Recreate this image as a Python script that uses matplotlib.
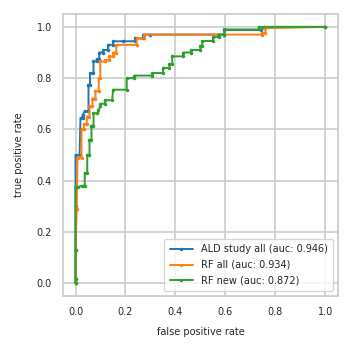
import matplotlib
matplotlib.use("Agg")
import matplotlib.pyplot as plt
import seaborn as sns

sns.set_theme(style="whitegrid")
plt.rcParams['font.family'] = ['DejaVu Sans']

ald_fpr = [0.0, 0.0, 0.0, 0.016, 0.02, 0.028, 0.028, 0.036, 0.052, 0.052, 0.058, 0.058, 0.072, 0.072, 0.085, 0.085, 0.095, 0.095, 0.11, 0.11, 0.13, 0.13, 0.15, 0.15, 0.19, 0.24, 0.24, 0.27, 0.27, 0.30, 0.596, 0.596, 0.744, 0.756, 1.0]
ald_tpr = [0.0, 0.30, 0.50, 0.50, 0.645, 0.645, 0.655, 0.67, 0.67, 0.774, 0.774, 0.82, 0.82, 0.865, 0.865, 0.875, 0.875, 0.90, 0.90, 0.91, 0.91, 0.93, 0.93, 0.944, 0.944, 0.944, 0.955, 0.955, 0.97, 0.97, 0.97, 0.988, 0.988, 1.0, 1.0]
label_ald = "ALD study all (auc: 0.946)"

rfa_fpr = [0.0, 0.0, 0.005, 0.008, 0.024, 0.024, 0.033, 0.033, 0.045, 0.045, 0.056, 0.056, 0.068, 0.068, 0.08, 0.08, 0.093, 0.093, 0.099, 0.099, 0.12, 0.12, 0.136, 0.136, 0.152, 0.152, 0.163, 0.163, 0.245, 0.245, 0.276, 0.276, 0.747, 0.747, 0.76, 0.76, 1.0]
rfa_tpr = [0.0, 0.13, 0.29, 0.49, 0.49, 0.60, 0.60, 0.62, 0.62, 0.65, 0.65, 0.69, 0.69, 0.72, 0.72, 0.75, 0.75, 0.80, 0.80, 0.865, 0.865, 0.87, 0.87, 0.885, 0.885, 0.90, 0.90, 0.93, 0.93, 0.955, 0.955, 0.97, 0.97, 0.977, 0.977, 0.995, 1.0]
label_rfa = "RF all (auc: 0.934)"

rfn_fpr = [0.0, 0.0, 0.0, 0.0, 0.008, 0.027, 0.037, 0.037, 0.047, 0.047, 0.056, 0.056, 0.064, 0.064, 0.072, 0.072, 0.088, 0.092, 0.1, 0.1, 0.117, 0.117, 0.147, 0.15, 0.205, 0.205, 0.236, 0.236, 0.307, 0.307, 0.35, 0.35, 0.376, 0.376, 0.387, 0.387, 0.43, 0.43, 0.463, 0.463, 0.50, 0.50, 0.507, 0.507, 0.55, 0.55, 0.573, 0.573, 0.596, 0.596, 0.733, 0.733, 1.0]
rfn_tpr = [0.0, 0.016, 0.13, 0.375, 0.375, 0.38, 0.38, 0.43, 0.43, 0.50, 0.50, 0.56, 0.56, 0.615, 0.615, 0.663, 0.663, 0.676, 0.69, 0.70, 0.70, 0.714, 0.714, 0.755, 0.755, 0.80, 0.80, 0.81, 0.81, 0.82, 0.82, 0.84, 0.84, 0.855, 0.855, 0.885, 0.885, 0.90, 0.90, 0.91, 0.91, 0.927, 0.927, 0.945, 0.945, 0.96, 0.96, 0.97, 0.97, 0.99, 0.99, 1.0, 1.0]
label_rfn = "RF new (auc: 0.872)"

fig = plt.figure(figsize=(3.52, 3.52), dpi=100)
ax = fig.add_axes([0.179, 0.159, 0.781, 0.801])

ms = 3
ax.plot(ald_fpr, ald_tpr, marker='.', markersize=ms, lw=1.4, color='#1f77b4', label=label_ald)
ax.plot(rfa_fpr, rfa_tpr, marker='.', markersize=ms, lw=1.4, color='#ff7f0e', label=label_rfa)
ax.plot(rfn_fpr, rfn_tpr, marker='.', markersize=ms, lw=1.4, color='#2ca02c', label=label_rfn)

ax.set_xlim(-0.05, 1.05)
ax.set_ylim(-0.05, 1.05)
ticks = [0.0, 0.2, 0.4, 0.6, 0.8, 1.0]
ax.set_xticks(ticks)
ax.set_yticks(ticks)
ax.tick_params(labelsize=7, pad=2, colors='#262626')
for s in ax.spines.values():
    s.set_color('#cccccc')
    s.set_linewidth(1.25)
ax.grid(True, color='#cccccc', linewidth=1.2)
ax.set_xlabel("false positive rate", fontsize=7, labelpad=7)
ax.set_ylabel("true positive rate", fontsize=7, labelpad=9)
leg = ax.legend(loc='lower right', fontsize=7, handlelength=2.4, borderpad=0.55, labelspacing=0.6)

fig.savefig("out.png", dpi=100)
